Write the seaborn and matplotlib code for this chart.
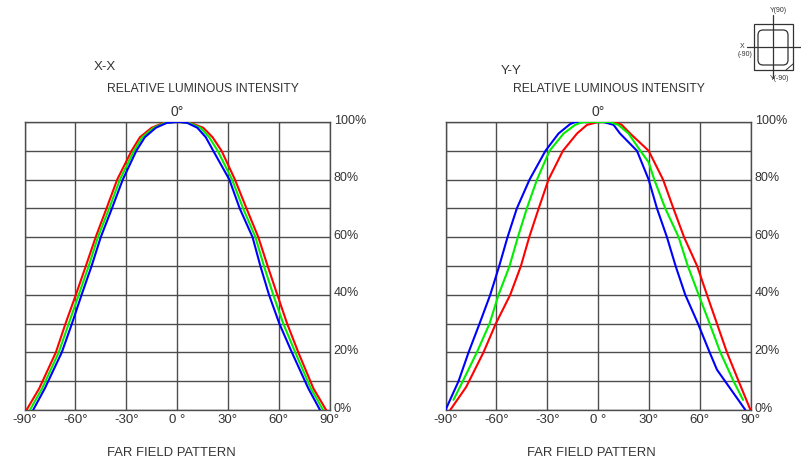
import matplotlib
matplotlib.use("Agg")
import matplotlib.pyplot as plt
from matplotlib.patches import Rectangle, FancyBboxPatch
from matplotlib.transforms import ScaledTranslation
import pandas as pd
import seaborn as sns

LEVEL_DOWN = [0, 7.5, 20, 30, 40, 50, 60, 70, 80, 90, 94.7, 98, 99.7, 100]

xx_red_l = [-88.8, -81.3, -71.5, -65.8, -59.7, -53.8, -48, -41.6, -35.3, -26.8, -21.9, -15, -8, -2]
xx_green_l = [-86.8, -79.6, -69.8, -63.9, -58, -52.1, -46.7, -40, -33.7, -25.4, -20.5, -13.8, -7, -1]
xx_blue_l = [-84.9, -78, -68, -62, -56.3, -50.4, -45, -38.4, -32, -24, -19, -12.5, -6, 0]
xx_red_r = [88, 80.5, 71.6, 65, 59.2, 53.5, 48, 41, 34.2, 26.3, 21, 15.5, 8, 0.7]
xx_green_r = [86.2, 79, 69.8, 62.7, 56.8, 51.3, 46.3, 39, 32.5, 24, 19, 13.8, 7, 1]
xx_blue_r = [84.4, 77.5, 67.8, 60.4, 54.3, 49.2, 44.6, 37, 30.9, 21.4, 17, 12, 6, 2]

yy_blue_deg = [-90, -82.3, -76.4, -69.9, -63.6, -58.3, -53.4, -47.9, -40.4, -31, -23.3, -16.4, -13.4, 0,
               3.3, 9.2, 13, 23, 29.9, 34.8, 40.7, 45.8, 51.5, 59, 65.9, 70.2, 78, 87]
yy_blue_val = [0, 10, 20, 30, 40, 50, 60, 70, 80, 90, 96, 99.3, 100, 100,
               100, 99, 96, 90, 80, 70, 60, 50, 40, 30, 20, 14, 7.5, 0]
yy_green_deg = [-85.3, -79.8, -71.5, -64, -58.7, -52.2, -47.3, -42, -36, -28.6, -20.3, -13.5, -9,
                7, 12, 18, 25, 29.9, 33.2, 39.7, 47.6, 53, 59.4, 65.9, 72.2, 80, 85.6]
yy_green_val = [3.5, 10, 20, 30, 40, 50, 60, 70, 80, 90, 96, 99, 100,
                100, 99, 96, 90, 86, 80, 70, 60, 50, 40, 30, 20, 10, 3.5]
yy_red_deg = [-87.2, -77.8, -67.6, -60.3, -51.8, -45.5, -40.6, -35, -29.2, -20.7, -12.4, -6.5, 0,
              10, 14, 19, 29.9, 38.4, 44.5, 50.8, 58.5, 64.3, 70.2, 76.1, 83, 90]
yy_red_val = [0, 8, 20, 30, 40, 50, 60, 70, 80, 90, 96, 99, 100,
              100, 99, 96, 90, 80, 70, 60, 50, 40, 30, 20, 10, 0]

X_TICKS = [-90, -60, -30, 0, 30, 60, 90]
X_LABELS = ["-90°", "-60°", "-30°", "0 °", "30°", "60°", "90°"]
Y_TICKS = [0, 20, 40, 60, 80, 100]
Y_LABELS = ["0%", "20%", "40%", "60%", "80%", "100%"]
PALETTE = {"red": "#ff0000", "green": "#00ee00", "blue": "#0000ff"}


def frame(deg, val, name):
    return pd.DataFrame({"angle": deg, "level": val, "series": name})


xx = pd.concat([
    frame(xx_red_l + xx_red_r[::-1], LEVEL_DOWN + LEVEL_DOWN[::-1], "red"),
    frame(xx_green_l + xx_green_r[::-1], LEVEL_DOWN + LEVEL_DOWN[::-1], "green"),
    frame(xx_blue_l + xx_blue_r[::-1], LEVEL_DOWN + LEVEL_DOWN[::-1], "blue"),
])
yy = pd.concat([
    frame(yy_red_deg, yy_red_val, "red"),
    frame(yy_blue_deg, yy_blue_val, "blue"),
    frame(yy_green_deg, yy_green_val, "green"),
])

sns.set_theme(style="white")
plt.rcParams["font.family"] = ["Liberation Sans", "DejaVu Sans"]
W, H = 801, 466
TXT = "#333333"
fig = plt.figure(figsize=(W / 100, H / 100), dpi=100, facecolor="white")


def px_text(x, y, s, size=9.5, ha="left"):
    fig.text(x / W, 1 - y / H, s, fontsize=size, color=TXT, ha=ha, va="center")


def panel(left, data, title, title_x, title_y, sup_x, foot_x):
    ax = fig.add_axes([left / W, 1 - 410 / H, 305 / W, 288 / H])
    sns.lineplot(data=data, x="angle", y="level", hue="series", palette=PALETTE,
                 estimator=None, sort=False, linewidth=1.5, legend=False, ax=ax, zorder=3)
    ax.set_xlim(-90, 90)
    ax.set_ylim(0, 100)
    ax.set_xlabel("")
    ax.set_ylabel("")
    ax.set_xticks(X_TICKS, X_LABELS)
    ax.set_yticks(Y_TICKS, Y_LABELS)
    ax.set_yticks([10, 30, 50, 70, 90], minor=True)
    ax.yaxis.tick_right()
    ax.tick_params(axis="both", which="both", length=0, labelcolor=TXT)
    ax.tick_params(axis="x", pad=3, labelsize=9.5)
    ax.tick_params(axis="y", pad=3, labelsize=9)
    up = ScaledTranslation(0, 3 / 100, fig.dpi_scale_trans)
    for lab in ax.get_yticklabels():
        lab.set_transform(lab.get_transform() + up)
    ax.grid(True, which="both", color="#4d4d4d", linewidth=1)
    ax.set_axisbelow(True)
    for s in ax.spines.values():
        s.set_color("#4d4d4d")
        s.set_linewidth(1)
    px_text(title_x, title_y, title, size=9.5)
    px_text(sup_x, 89, "RELATIVE LUMINOUS INTENSITY", size=8.7)
    px_text(left + 152.5, 112, "0°", size=10, ha="center")
    px_text(foot_x, 453, "FAR FIELD PATTERN", size=9.4)


panel(24.5, xx, "X-X", 94, 67, 107, 107)
panel(445.5, yy, "Y-Y", 501, 71, 513, 527)

# Orientation key at the top right
key = fig.add_axes([0, 0, 1, 1], facecolor="none")
key.set_xlim(0, W)
key.set_ylim(H, 0)
key.axis("off")
key.add_patch(Rectangle((754, 24), 39, 46, fill=False, ec="#333333", lw=0.9))
key.add_patch(FancyBboxPatch((758, 30), 30, 35, boxstyle="round,pad=0,rounding_size=5",
                             fill=False, ec="#333333", lw=0.9))
key.plot([773, 773], [15, 78], color="#333333", lw=0.9)
key.plot([747, 801], [47, 47], color="#333333", lw=0.9)
key.plot([786, 793], [70, 64], color="#333333", lw=0.7)
key.text(770, 11, "Y(90)", fontsize=5, color=TXT, ha="left", va="center")
key.text(742, 46, "X", fontsize=5, color=TXT, ha="center", va="center")
key.text(745, 55, "(-90)", fontsize=5, color=TXT, ha="center", va="center")
key.text(770, 79, "Y(-90)", fontsize=5, color=TXT, ha="left", va="center")

fig.savefig("out.png", dpi=100)
